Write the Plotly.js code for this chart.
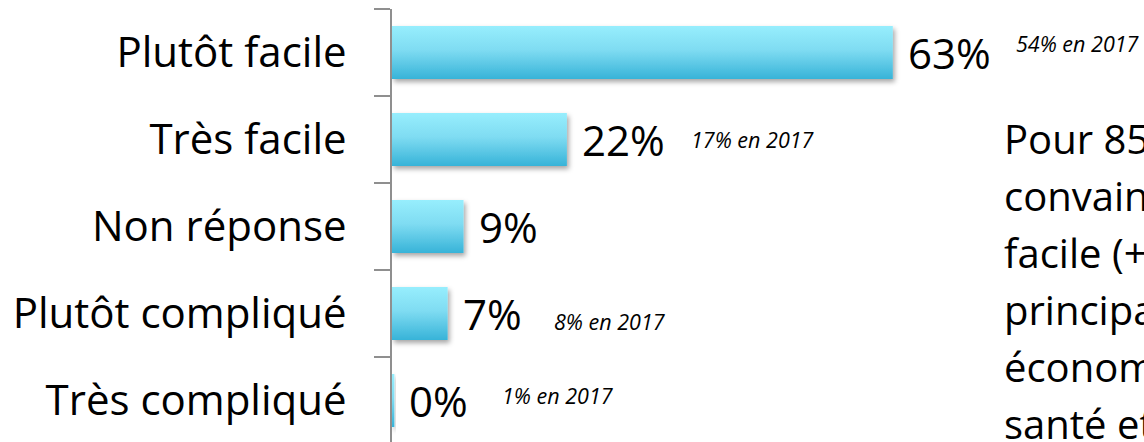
<!DOCTYPE html>
<html>
<head>
<meta charset="utf-8">
<script src="https://cdn.plot.ly/plotly-3.0.1.min.js"></script>
<style>
body{margin:0;background:#fff;overflow:hidden}
#chart{width:1144px;height:442px}
</style>
</head>
<body>
<div id="chart"></div>
<script>

const categories = ["Plutôt facile","Très facile","Non réponse","Plutôt compliqué","Très compliqué"]
const values = [63,22,9,7,0.3]
const values2017 = [54,17,null,8,1]
const sideLines = ["Pour 85%","convaincre","facile (+","principalement","économique","santé et"]

/* offsets of the "en 2017" notes, px from bar end / bar centre */
const noteX = [121,122,0,104,106]
const noteY = [9,0,0,-8,5]

const FONT = "Open Sans, Noto Sans, sans-serif"

let notes = []

values.forEach((v,i)=>{

notes.push({
x:v, y:i, xref:"x", yref:"y",
text:Math.round(v)+"%",
showarrow:false, xanchor:"left", yanchor:"middle",
xshift:13,
font:{family:FONT,size:42,color:"#000"}
})

if(values2017[i]!==null){
notes.push({
x:v, y:i, xref:"x", yref:"y",
text:"<i>"+values2017[i]+"% en 2017</i>",
showarrow:false, xanchor:"left", yanchor:"middle",
xshift:noteX[i], yshift:noteY[i],
font:{family:FONT,size:21.5,color:"#000"}
})
}

})

/* text box on the right, cut by the edge of the slide */

sideLines.forEach((t,i)=>{
notes.push({
x:0.811, y:0.768, xref:"paper", yref:"paper",
text:t,
showarrow:false, xanchor:"left", yanchor:"top", align:"left",
yshift:-57*i,
font:{family:FONT,size:40,color:"#000"}
})
})

Plotly.newPlot("chart",[{

type:"bar",
orientation:"h",
x:values,
y:categories,
width:0.61,
marker:{color:"#5fcfea",line:{width:0}},
hoverinfo:"x+y"

}],{

width:1144,
height:442,
margin:{l:392,r:0,t:9,b:0},
paper_bgcolor:"#fff",
plot_bgcolor:"#fff",
showlegend:false,

xaxis:{
range:[0,94.6],
visible:false,
fixedrange:true
},

yaxis:{
type:"category",
range:[4.477,-0.5],
showline:true,
linecolor:"#8f8f8f",
linewidth:2,
ticks:"outside",
tickson:"boundaries",
ticklen:16,
tickwidth:2,
tickcolor:"#8f8f8f",
ticklabelstandoff:35,
showgrid:false,
zeroline:false,
tickfont:{family:FONT,size:42,color:"#000"},
fixedrange:true
},

annotations:notes

},{displayModeBar:false,staticPlot:true}).then(gd=>{

/* vertical gradient + soft shadow on the bars */

const ns = "http://www.w3.org/2000/svg"
const svg = gd.querySelector("svg.main-svg")
let defs = svg.querySelector("defs")

let grad = document.createElementNS(ns,"linearGradient")
grad.setAttribute("id","barGrad")
grad.setAttribute("x1","0"); grad.setAttribute("y1","0")
grad.setAttribute("x2","0"); grad.setAttribute("y2","1")
;[["0%","#97eefd"],["45%","#7fdcf2"],["100%","#37b3d8"]].forEach(s=>{
let st = document.createElementNS(ns,"stop")
st.setAttribute("offset",s[0])
st.setAttribute("stop-color",s[1])
grad.appendChild(st)
})
defs.appendChild(grad)

let filt = document.createElementNS(ns,"filter")
filt.setAttribute("id","barShadow")
filt.setAttribute("x","-20%"); filt.setAttribute("y","-20%")
filt.setAttribute("width","150%"); filt.setAttribute("height","170%")
let sh = document.createElementNS(ns,"feDropShadow")
sh.setAttribute("dx","2"); sh.setAttribute("dy","3")
sh.setAttribute("stdDeviation","2.5")
sh.setAttribute("flood-color","#000")
sh.setAttribute("flood-opacity","0.35")
filt.appendChild(sh)
defs.appendChild(filt)

gd.querySelectorAll(".barlayer .point path").forEach(p=>{
p.style.fill = "url(#barGrad)"
p.setAttribute("filter","url(#barShadow)")
})

})

</script>
</body>
</html>
